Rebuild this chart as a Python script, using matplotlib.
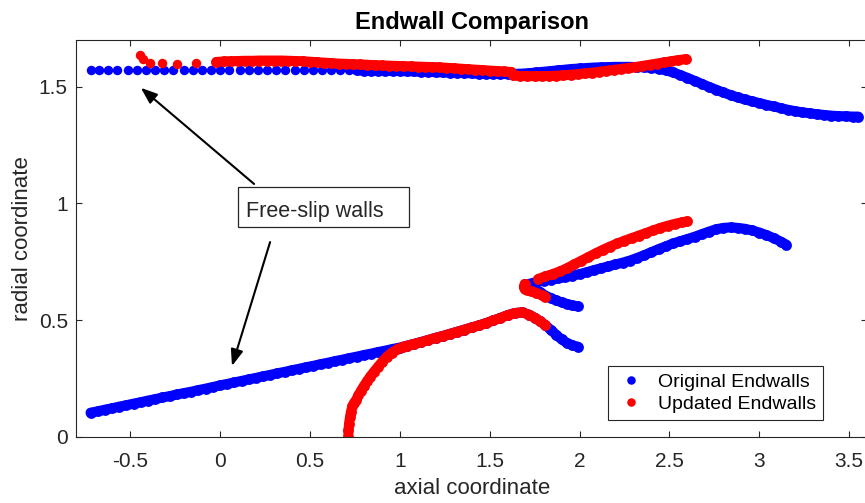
import matplotlib
matplotlib.use("Agg")
import matplotlib.pyplot as plt
from matplotlib.patches import Rectangle

plt.rcParams['font.family'] = ['Liberation Sans', 'DejaVu Sans']
DARK = '#262626'

# --- original endwalls (blue) ---
# coarse inlet part of the shroud
orig_shroud_in_x = [-0.72, -0.67, -0.62, -0.57, -0.51, -0.46, -0.41, -0.36, -0.31, -0.26,
                    -0.20, -0.15, -0.10, -0.05, 0.00, 0.05, 0.11, 0.16, 0.21, 0.26,
                    0.31, 0.36, 0.42, 0.47, 0.52, 0.57, 0.62, 0.67, 0.72]
orig_shroud_in_y = [1.57] * 29

orig_shroud_x = [0.76, 0.80, 0.84, 0.88, 0.92, 0.96, 1.00, 1.04, 1.08, 1.12, 1.16, 1.20,
                 1.24, 1.28, 1.32, 1.36, 1.40, 1.44, 1.48, 1.52, 1.56, 1.60, 1.64, 1.68,
                 1.72, 1.76, 1.80, 1.84, 1.88, 1.92, 1.96, 2.00, 2.04, 2.08, 2.12, 2.16,
                 2.20, 2.24, 2.28, 2.32, 2.36, 2.40, 2.44, 2.48, 2.52, 2.56, 2.60, 2.64,
                 2.68, 2.72, 2.76, 2.80, 2.84, 2.88, 2.92, 2.96, 3.00, 3.04, 3.08, 3.12,
                 3.16, 3.20, 3.24, 3.28, 3.32, 3.36, 3.40, 3.44, 3.48, 3.52, 3.55]
orig_shroud_y = [1.570, 1.569, 1.569, 1.568, 1.568, 1.567, 1.567, 1.566, 1.565, 1.564, 1.563, 1.562,
                 1.561, 1.560, 1.559, 1.558, 1.557, 1.556, 1.555, 1.555, 1.554, 1.554, 1.555, 1.556,
                 1.558, 1.561, 1.564, 1.567, 1.570, 1.573, 1.576, 1.578, 1.580, 1.582, 1.583, 1.584,
                 1.585, 1.585, 1.585, 1.584, 1.583, 1.581, 1.577, 1.570, 1.561, 1.550, 1.538, 1.525,
                 1.512, 1.499, 1.487, 1.475, 1.464, 1.454, 1.445, 1.437, 1.430, 1.422, 1.415, 1.408,
                 1.401, 1.395, 1.390, 1.386, 1.382, 1.379, 1.376, 1.374, 1.373, 1.372, 1.372]

orig_hub_x = [-0.72, -0.68, -0.64, -0.60, -0.56, -0.52, -0.48, -0.44, -0.40, -0.36, -0.32,
              -0.28, -0.24, -0.20, -0.16, -0.12, -0.08, -0.04, 0.00, 0.04, 0.08, 0.12,
              0.16, 0.20, 0.24, 0.28, 0.32, 0.36, 0.40, 0.44, 0.48, 0.52, 0.56, 0.60,
              0.64, 0.68, 0.72, 0.76, 0.80, 0.84, 0.88, 0.92, 0.96, 1.00, 1.04, 1.08,
              1.12, 1.16, 1.20, 1.24, 1.28, 1.32, 1.36, 1.40, 1.44, 1.48, 1.52, 1.56,
              1.60, 1.64, 1.68, 1.72, 1.75, 1.78, 1.81, 1.84, 1.87, 1.90, 1.93, 1.96, 1.99]
orig_hub_y = [0.103, 0.109, 0.116, 0.122, 0.129, 0.135, 0.142, 0.148, 0.155, 0.161, 0.168,
              0.174, 0.181, 0.187, 0.193, 0.200, 0.206, 0.213, 0.220, 0.226, 0.233, 0.239,
              0.246, 0.252, 0.259, 0.265, 0.272, 0.278, 0.285, 0.291, 0.298, 0.304, 0.311, 0.317,
              0.324, 0.330, 0.337, 0.343, 0.350, 0.356, 0.363, 0.369, 0.376, 0.382, 0.390, 0.398,
              0.406, 0.415, 0.424, 0.432, 0.441, 0.450, 0.459, 0.468, 0.477, 0.487, 0.498, 0.509,
              0.521, 0.530, 0.533, 0.523, 0.510, 0.495, 0.478, 0.458, 0.437, 0.417, 0.402, 0.392, 0.386]

orig_split_up_x = [1.72, 1.76, 1.80, 1.84, 1.88, 1.92, 1.96, 2.00, 2.04, 2.08, 2.12, 2.16,
                   2.20, 2.24, 2.28, 2.32, 2.36, 2.40, 2.44, 2.48, 2.52, 2.56, 2.60, 2.64,
                   2.68, 2.72, 2.76, 2.80, 2.84, 2.88, 2.92, 2.96, 3.00, 3.04, 3.08, 3.12, 3.15]
orig_split_up_y = [0.655, 0.663, 0.669, 0.673, 0.678, 0.684, 0.690, 0.697, 0.705, 0.714, 0.722, 0.730,
                   0.738, 0.746, 0.755, 0.766, 0.778, 0.791, 0.804, 0.816, 0.828, 0.838, 0.847, 0.857,
                   0.868, 0.879, 0.889, 0.895, 0.897, 0.895, 0.891, 0.884, 0.875, 0.864, 0.851, 0.836, 0.823]

orig_split_lo_x = [1.72, 1.75, 1.78, 1.81, 1.84, 1.87, 1.90, 1.93, 1.96, 1.99]
orig_split_lo_y = [0.650, 0.638, 0.620, 0.605, 0.594, 0.584, 0.576, 0.569, 0.563, 0.558]

# --- updated endwalls (red) ---
new_shroud_in_x = [-0.444, -0.426, -0.389, -0.324, -0.237, -0.133]
new_shroud_in_y = [1.636, 1.617, 1.603, 1.601, 1.598, 1.601]

new_shroud_a_x = [-0.02, 0.02, 0.06, 0.10, 0.14, 0.18, 0.22, 0.26, 0.30, 0.34, 0.38, 0.42,
                  0.46, 0.50, 0.54, 0.58, 0.62, 0.66, 0.70, 0.74, 0.78, 0.82, 0.86, 0.90,
                  0.94, 0.98, 1.02, 1.06, 1.10, 1.14, 1.18, 1.22, 1.26, 1.30, 1.34, 1.38,
                  1.42, 1.46, 1.50, 1.54, 1.58, 1.62]
new_shroud_a_y = [1.606, 1.608, 1.609, 1.610, 1.611, 1.611, 1.612, 1.612, 1.612, 1.612, 1.611, 1.610,
                  1.609, 1.607, 1.605, 1.603, 1.601, 1.599, 1.598, 1.596, 1.595, 1.594, 1.592, 1.591,
                  1.590, 1.589, 1.588, 1.587, 1.586, 1.585, 1.584, 1.583, 1.581, 1.579, 1.577, 1.575,
                  1.573, 1.571, 1.569, 1.567, 1.565, 1.563]

new_shroud_b_x = [1.63, 1.67, 1.71, 1.75, 1.79, 1.83, 1.87, 1.91, 1.95, 1.99, 2.03, 2.07,
                  2.11, 2.15, 2.19, 2.23, 2.27, 2.31, 2.35, 2.39, 2.43, 2.47, 2.51, 2.55, 2.59]
new_shroud_b_y = [1.548, 1.546, 1.545, 1.545, 1.545, 1.546, 1.547, 1.549, 1.551, 1.554, 1.557, 1.560,
                  1.564, 1.568, 1.572, 1.576, 1.580, 1.584, 1.589, 1.594, 1.599, 1.604, 1.609, 1.614, 1.618]

new_hub_x = [0.714, 0.715, 0.718, 0.723, 0.729, 0.737, 0.746, 0.757, 0.770, 0.784, 0.800,
             0.817, 0.835, 0.856, 0.878, 0.902, 0.928, 0.955, 0.985, 1.02, 1.04, 1.08,
             1.12, 1.16, 1.20, 1.24, 1.28, 1.32, 1.36, 1.40, 1.44, 1.48, 1.52, 1.56,
             1.60, 1.64, 1.68, 1.72, 1.75, 1.78, 1.81]
new_hub_y = [0.000, 0.028, 0.056, 0.083, 0.108, 0.132, 0.145, 0.157, 0.177, 0.197, 0.217,
             0.237, 0.257, 0.278, 0.299, 0.321, 0.343, 0.360, 0.374, 0.386, 0.390, 0.398,
             0.406, 0.415, 0.424, 0.432, 0.441, 0.450, 0.459, 0.468, 0.477, 0.487, 0.498, 0.509,
             0.521, 0.530, 0.533, 0.523, 0.510, 0.495, 0.478]

new_nose_x = [1.695, 1.690, 1.695, 1.710, 1.730, 1.760, 1.790, 1.810]
new_nose_y = [0.655, 0.643, 0.632, 0.628, 0.624, 0.616, 0.606, 0.600]

new_split_up_x = [1.77, 1.81, 1.85, 1.89, 1.93, 1.97, 2.01, 2.05, 2.09, 2.13, 2.17, 2.21,
                  2.25, 2.29, 2.33, 2.37, 2.41, 2.45, 2.49, 2.53, 2.57, 2.60]
new_split_up_y = [0.676, 0.687, 0.697, 0.708, 0.722, 0.738, 0.754, 0.770, 0.786, 0.801, 0.815, 0.828,
                  0.840, 0.851, 0.862, 0.873, 0.884, 0.895, 0.904, 0.912, 0.919, 0.923]

# (x, y, coarse) per wall segment
original = [(orig_shroud_in_x, orig_shroud_in_y, True), (orig_shroud_x, orig_shroud_y, False),
            (orig_hub_x, orig_hub_y, False), (orig_split_up_x, orig_split_up_y, False),
            (orig_split_lo_x, orig_split_lo_y, False)]
updated = [(new_shroud_in_x, new_shroud_in_y, True), (new_shroud_a_x, new_shroud_a_y, False),
           (new_shroud_b_x, new_shroud_b_y, False), (new_hub_x, new_hub_y, False),
           (new_nose_x, new_nose_y, False), (new_split_up_x, new_split_up_y, False)]

fig = plt.figure(figsize=(8.65, 5.03), dpi=100)
ax = fig.add_axes([0.088, 0.1318, 0.9145, 0.7887])


def draw(segments, color):
    first = None
    for xs, ys, coarse in segments:
        if coarse:
            line, = ax.plot(xs, ys, 'o', color=color, markersize=6.8, markeredgewidth=0)
        else:
            # fine grid: nodes sit so close together they merge into a band
            line, = ax.plot(xs, ys, 'o-', color=color, markersize=7.8, markeredgewidth=0,
                            linewidth=7.2, solid_capstyle='round', solid_joinstyle='round')
        first = first or line
    return first


h_orig = draw(original, (0, 0, 1))
h_new = draw(updated, (1, 0, 0))

ax.set_xlim(-0.8, 3.6)
ax.set_ylim(0, 1.7)
ax.set_xticks([-0.5, 0, 0.5, 1, 1.5, 2, 2.5, 3, 3.5])
ax.set_xticklabels(['-0.5', '0', '0.5', '1', '1.5', '2', '2.5', '3', '3.5'])
ax.set_yticks([0, 0.5, 1, 1.5])
ax.set_yticklabels(['0', '0.5', '1', '1.5'])
ax.tick_params(direction='in', top=True, right=True, length=4, width=0.8,
               colors=DARK, labelsize=15)
ax.tick_params(axis='x', pad=11)
ax.tick_params(axis='y', pad=6)
for s in ax.spines.values():
    s.set_color(DARK)
    s.set_linewidth(0.8)

ax.set_xlabel('axial coordinate', fontsize=16, color=DARK, labelpad=5)
ax.set_ylabel('radial coordinate', fontsize=16, color=DARK, labelpad=4)
ax.set_title('Endwall Comparison', fontsize=17, fontweight='bold', color='black', pad=8)

leg = ax.legend([h_orig, h_new], ['Original Endwalls', 'Updated Endwalls'],
                loc='lower right', bbox_to_anchor=(0.944, 0.042), borderaxespad=0,
                fontsize=14, fancybox=False, framealpha=1, edgecolor=DARK,
                handlelength=1.6, handletextpad=0.6, borderpad=0.35, labelspacing=0.25,
                markerscale=0.9)
leg.get_frame().set_linewidth(0.8)

# text box with two arrows pointing at the free-slip boundaries
ax.add_patch(Rectangle((0.2045, 0.5293), 0.2162, 0.0991, transform=ax.transAxes,
                       facecolor='white', edgecolor=DARK, linewidth=0.9, zorder=4))
ax.text(0.529, 0.963, 'Free-slip walls', fontsize=15.5, color=DARK,
        ha='center', va='center', zorder=5)
arrow = dict(arrowstyle='-|>,head_length=0.45,head_width=0.17', color='black',
             lw=1.5, mutation_scale=22, shrinkA=0, shrinkB=0)
ax.annotate('', xy=(-0.44, 1.495), xytext=(0.19, 1.083), arrowprops=arrow, zorder=5)
ax.annotate('', xy=(0.067, 0.303), xytext=(0.279, 0.834), arrowprops=arrow, zorder=5)

fig.savefig('out.png', dpi=100)
